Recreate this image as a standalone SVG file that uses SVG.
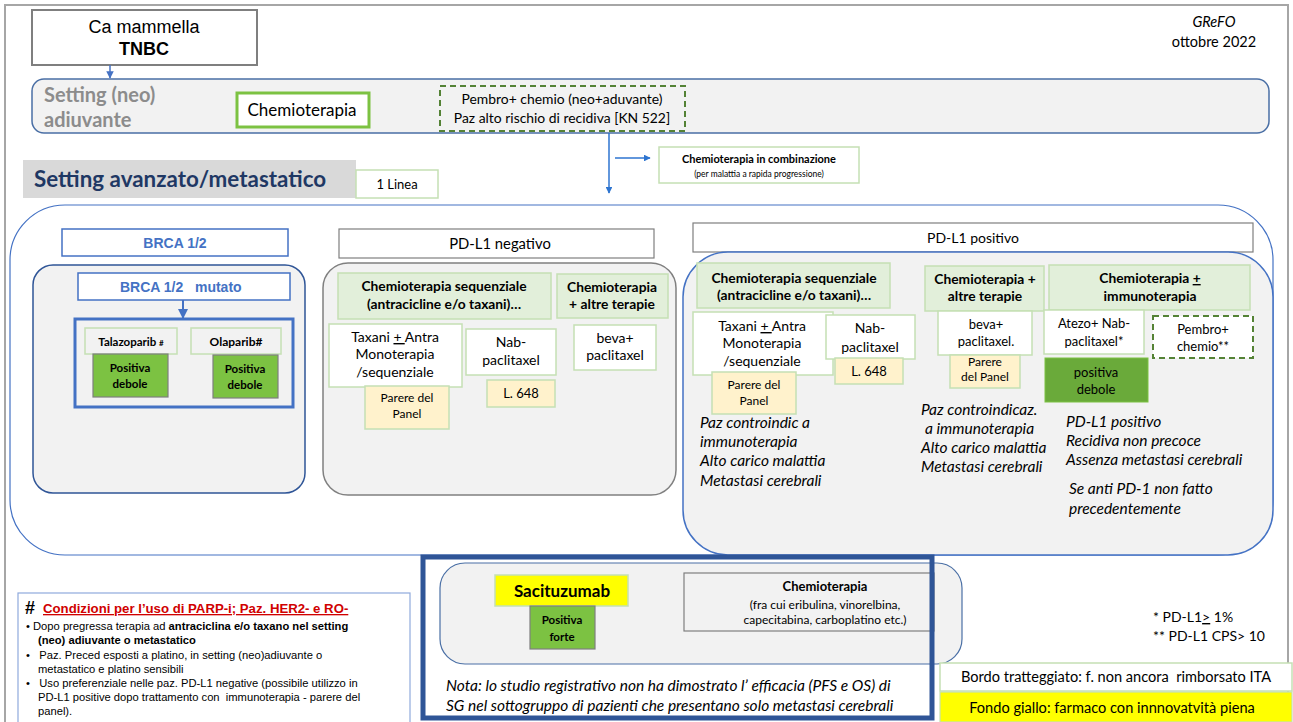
<svg xmlns="http://www.w3.org/2000/svg" width="1293" height="722" viewBox="0 0 1293 722">
<defs>
<marker id="ah" viewBox="0 0 10 10" refX="9" refY="5" markerWidth="5" markerHeight="5" orient="auto"><path d="M0,0 L10,5 L0,10 z" fill="#4472c4"/></marker>
<marker id="ah2" viewBox="0 0 10 10" refX="9" refY="5" markerWidth="4.5" markerHeight="4.5" orient="auto"><path d="M0,0 L10,5 L0,10 z" fill="#2e75d0"/></marker>
<style>
text{font-family:Lato,"Liberation Sans",sans-serif;fill:#000}
.ar{font-family:"Liberation Sans",Arial,sans-serif}
.c{text-anchor:middle}
.b{font-weight:bold}
.i{font-style:italic}
.hdr{fill:#e2efda;stroke:#c5e0b4;stroke-width:1.5}
.wb{fill:#fff;stroke:#c5e0b4;stroke-width:1.5}
.pan{fill:#fff2cc;stroke:#c5e0b4;stroke-width:1.5}
.gr{fill:#7cc242;stroke:#7f7f7f;stroke-width:1.2}
.dash{fill:#fff;stroke:#548235;stroke-width:2;stroke-dasharray:6,4}
.f13{font-size:13px}
.f14{font-size:14px}
.f12{font-size:12px}
.h{font-size:13.8px;font-weight:bold}
.it{font-size:15.5px;font-style:italic}
</style>
</defs>
<rect x="0" y="0" width="1293" height="722" fill="#fff"/>
<path d="M5,722 V5 H1288 V722" fill="none" stroke="#a6a6a6" stroke-width="2"/>

<g id="title">
<rect x="32" y="10" width="225" height="55" fill="#fff" stroke="#7f7f7f" stroke-width="2"/>
<text class="ar c" x="144" y="33" font-size="18">Ca mammella</text>
<text class="ar c b" x="144" y="55" font-size="18">TNBC</text>
</g>
<g id="grefo">
<text class="c i" x="1214" y="27" font-size="14.5">GReFO</text>
<text class="c" x="1214" y="47" font-size="14.5">ottobre 2022</text>
</g>

<g id="neo-setting">
<rect x="32" y="79" width="1237" height="54" rx="12" fill="#f2f2f2" stroke="#4a6fa5" stroke-width="1.5"/>
<text x="44" y="102" font-size="20" font-weight="bold" style="fill:#8c8c8c">Setting (neo)</text>
<text x="44" y="127" font-size="20" font-weight="bold" style="fill:#8c8c8c">adiuvante</text>
</g>
<g id="neo-chemio">
<rect x="237" y="93" width="132" height="34" fill="#fff" stroke="#7cc242" stroke-width="3"/>
<text class="c" x="302" y="116" font-size="17">Chemioterapia</text>
</g>
<g id="neo-pembro">
<rect x="440" y="86" width="245" height="45" class="dash" style="fill:#f2f2f2"/>
<text class="c" x="562" y="104" font-size="13.9">Pembro+ chemio (neo+aduvante)</text>
<text class="c" x="562" y="123" font-size="13.9">Paz alto rischio di recidiva [KN 522]</text>
</g>

<g id="meta-header">
<rect x="23" y="160" width="333" height="38" fill="#d9d9d9"/>
<text x="34" y="187" font-size="22.4" font-weight="bold" style="fill:#1f3864">Setting avanzato/metastatico</text>
</g>
<g id="linea">
<rect x="356" y="170" width="82" height="28" class="wb"/>
<text class="c f13" x="397" y="189">1 Linea</text>
</g>
<g id="combinazione">
<rect x="659" y="147" width="200" height="36" class="wb"/>
<text class="c b" x="759" y="163" font-size="11">Chemioterapia in combinazione</text>
<text class="c" x="759" y="177" font-size="8.5">(per malattia a rapida progressione)</text>
</g>

<g id="metastatic-container">
<rect x="10" y="205" width="1263" height="350" rx="55" fill="#fff" stroke="#4472c4" stroke-width="1.2"/>
</g>

<g id="brca">
<rect x="62" y="229" width="226" height="27" fill="#fff" stroke="#4472c4" stroke-width="1.5"/>
<text class="ar c b" x="175" y="248" font-size="14" style="fill:#4472c4">BRCA 1/2</text>
</g>
<g id="brca-container">
<rect x="33" y="265" width="272" height="228" rx="20" fill="#f2f2f2" stroke="#2f5597" stroke-width="1.5"/>
</g>
<g id="brca-mutato">
<rect x="78" y="273" width="212" height="27" fill="#fff" stroke="#4472c4" stroke-width="1.5"/>
<text class="ar b" x="120" y="292" font-size="14" style="fill:#4472c4" xml:space="preserve">BRCA 1/2   mutato</text>
</g>
<g id="parp-group">
<rect x="75" y="319" width="218" height="88" fill="#f2f2f2" stroke="#4472c4" stroke-width="3"/>
</g>
<g id="talazoparib">
<rect x="85" y="328" width="92" height="26" class="wb" style="fill:#f2f2f2"/>
<text class="c b" x="131" y="346" font-size="11.5">Talazoparib <tspan font-size="8">#</tspan></text>
<rect x="93" y="354" width="75" height="43" class="gr"/>
<text class="c b" x="130" y="372" font-size="11.5">Positiva</text>
<text class="c b" x="130" y="388" font-size="11.5">debole</text>
</g>
<g id="olaparib">
<rect x="191" y="328" width="90" height="26" class="wb" style="fill:#f2f2f2"/>
<text class="c b" x="236" y="346" font-size="12">Olaparib#</text>
<rect x="213" y="355" width="65" height="43" class="gr"/>
<text class="c b" x="245" y="373" font-size="11.5">Positiva</text>
<text class="c b" x="245" y="389" font-size="11.5">debole</text>
</g>

<g id="pdl1-neg">
<rect x="339" y="229" width="315" height="29" fill="#fff" stroke="#7f7f7f" stroke-width="1.2"/>
<text class="c" x="500" y="249" font-size="14.8">PD-L1 negativo</text>
</g>
<g id="pdl1-neg-container">
<rect x="323" y="263" width="353" height="232" rx="25" fill="#f2f2f2" stroke="#808080" stroke-width="1.5"/>
</g>
<g id="neg-seq">
<rect x="338" y="273" width="213" height="46" class="hdr"/>
<text class="c h" x="444" y="291">Chemioterapia sequenziale</text>
<text class="c h" x="444" y="309">(antracicline e/o taxani)…</text>
</g>
<g id="neg-altre">
<rect x="557" y="274" width="111" height="44" class="hdr"/>
<text class="c h" x="612" y="292">Chemioterapia</text>
<text class="c h" x="612" y="309">+ altre terapie</text>
</g>
<g id="neg-taxani">
<rect x="329" y="324" width="133" height="63" class="wb"/>
<text class="c f14" x="395" y="342">Taxani <tspan text-decoration="underline">+ </tspan>Antra</text>
<text class="c f14" x="395" y="359">Monoterapia</text>
<text class="c f14" x="395" y="377">/sequenziale</text>
</g>
<g id="neg-parere">
<rect x="365" y="386" width="84" height="43" class="pan"/>
<text class="c f12" x="407" y="402">Parere del</text>
<text class="c f12" x="407" y="418">Panel</text>
</g>
<g id="neg-nab">
<rect x="466" y="329" width="90" height="46" class="wb"/>
<text class="c f14" x="511" y="347">Nab-</text>
<text class="c f14" x="511" y="365">paclitaxel</text>
</g>
<g id="neg-l648">
<rect x="487" y="380" width="68" height="27" class="pan"/>
<text class="c f13" x="521" y="398">L. 648</text>
</g>
<g id="neg-beva">
<rect x="574" y="325" width="82" height="45" class="wb"/>
<text class="c f14" x="615" y="343">beva+</text>
<text class="c f14" x="615" y="360">paclitaxel</text>
</g>

<g id="pdl1-pos">
<rect x="693" y="223" width="560" height="29" fill="#fff" stroke="#7f7f7f" stroke-width="1.2"/>
<text class="c f14" x="973" y="243">PD-L1 positivo</text>
</g>
<g id="pdl1-pos-container">
<rect x="683" y="252" width="590" height="303" rx="45" fill="#f2f2f2" stroke="#4472c4" stroke-width="1.5"/>
</g>
<g id="pos-seq">
<rect x="697" y="263" width="193" height="45" class="hdr"/>
<text class="c h" x="794" y="283">Chemioterapia sequenziale</text>
<text class="c h" x="794" y="300">(antracicline e/o taxani)…</text>
</g>
<g id="pos-taxani">
<rect x="693" y="312" width="140" height="63" class="wb"/>
<text class="c f14" x="762" y="331">Taxani <tspan text-decoration="underline">+ </tspan>Antra</text>
<text class="c f14" x="762" y="348">Monoterapia</text>
<text class="c f14" x="762" y="366">/sequenziale</text>
</g>
<g id="pos-parere">
<rect x="712" y="372" width="84" height="42" class="pan"/>
<text class="c f12" x="754" y="389">Parere del</text>
<text class="c f12" x="754" y="405">Panel</text>
</g>
<g id="pos-nab">
<rect x="826" y="315" width="89" height="44" class="wb"/>
<text class="c f14" x="870" y="333">Nab-</text>
<text class="c f14" x="870" y="352">paclitaxel</text>
</g>
<g id="pos-l648">
<rect x="835" y="358" width="68" height="26" class="pan"/>
<text class="c f13" x="869" y="376">L. 648</text>
</g>
<g id="pos-seq-note">
<text class="it" x="700" y="428">Paz controindic a</text>
<text class="it" x="700" y="447">immunoterapia</text>
<text class="it" x="700" y="466">Alto carico malattia</text>
<text class="it" x="700" y="486">Metastasi cerebrali</text>
</g>
<g id="pos-altre">
<rect x="925" y="266" width="119" height="45" class="hdr"/>
<text class="c h" x="985" y="284">Chemioterapia +</text>
<text class="c h" x="985" y="301">altre terapie</text>
</g>
<g id="pos-beva">
<rect x="938" y="311" width="94" height="44" class="wb"/>
<text class="c f13" x="986" y="329">beva+</text>
<text class="c f13" x="986" y="346">paclitaxel.</text>
</g>
<g id="pos-beva-parere">
<rect x="950" y="355" width="70" height="33" class="pan"/>
<text class="c f12" x="985" y="366">Parere</text>
<text class="c f12" x="985" y="381">del Panel</text>
</g>
<g id="pos-altre-note">
<text class="it" x="921" y="415">Paz controindicaz.</text>
<text class="it" x="925" y="434">a immunoterapia</text>
<text class="it" x="921" y="453">Alto carico malattia</text>
<text class="it" x="921" y="472">Metastasi cerebrali</text>
</g>
<g id="pos-immuno">
<rect x="1049" y="265" width="201" height="45" class="hdr"/>
<text class="c h" x="1150" y="283">Chemioterapia <tspan text-decoration="underline">+</tspan></text>
<text class="c h" x="1150" y="301">immunoterapia</text>
</g>
<g id="pos-atezo">
<rect x="1044" y="310" width="100" height="44" class="wb"/>
<text class="c f13" x="1094" y="328">Atezo+ Nab-</text>
<text class="c f13" x="1094" y="346">paclitaxel*</text>
</g>
<g id="pos-atezo-grade">
<rect x="1045" y="358" width="103" height="44" fill="#6aaa3a" stroke="#7cc242" stroke-width="1"/>
<text class="c f13" x="1096" y="377">positiva</text>
<text class="c f13" x="1096" y="394">debole</text>
</g>
<g id="pos-pembro">
<rect x="1153" y="316" width="100" height="42" class="dash"/>
<text class="c f13" x="1203" y="334">Pembro+</text>
<text class="c f13" x="1203" y="351">chemio**</text>
</g>
<g id="pos-immuno-note">
<text class="it" x="1066" y="427">PD-L1 positivo</text>
<text class="it" x="1066" y="446">Recidiva non precoce</text>
<text class="it" x="1066" y="465">Assenza metastasi cerebrali</text>
<text class="it" x="1069" y="494">Se anti PD-1 non fatto</text>
<text class="it" x="1069" y="514">precedentemente</text>
</g>

<g id="parp-conditions">
<rect x="18" y="593" width="392" height="135" fill="#fff" stroke="#8faadc" stroke-width="1.2"/>
<text class="ar b" x="25" y="614" font-size="18">#</text>
<text class="ar b" x="43" y="613" font-size="13.2" text-decoration="underline" style="fill:#d00000">Condizioni per l’uso di PARP-i; Paz. HER2- e RO-</text>
<text class="ar" x="26" y="630" font-size="11.2">•  Dopo pregressa terapia ad <tspan font-weight="bold">antraciclina e/o taxano  nel setting</tspan></text>
<text class="ar b" x="38" y="644" font-size="11.2">(neo) adiuvante o metastatico</text>
<text class="ar" x="26" y="659" font-size="11.2" xml:space="preserve">•   Paz. Preced esposti a platino, in setting (neo)adiuvante o</text>
<text class="ar" x="38" y="673" font-size="11.2">metastatico e platino sensibili</text>
<text class="ar" x="26" y="687" font-size="11.2" xml:space="preserve">•   Uso preferenziale nelle paz. PD-L1 negative (possibile utilizzo in</text>
<text class="ar" x="38" y="701" font-size="11.2" xml:space="preserve">PD-L1 positive dopo trattamento con  immunoterapia - parere del</text>
<text class="ar" x="38" y="715" font-size="11.2">panel).</text>
</g>

<g id="second-line-container">
<rect x="440" y="563" width="522" height="101" rx="25" fill="#f2f2f2" stroke="#4a6fa5" stroke-width="1.2"/>
</g>
<g id="sacituzumab">
<rect x="495" y="575" width="133" height="31" fill="#ffff00" stroke="#c5e0b4" stroke-width="1.5"/>
<text class="c b" x="562" y="597" font-size="17">Sacituzumab</text>
<rect x="530" y="606" width="65" height="43" class="gr"/>
<text class="c b" x="562" y="624" font-size="11.5">Positiva</text>
<text class="c b" x="562" y="641" font-size="11.5">forte</text>
</g>
<g id="chemio-2l">
<rect x="684" y="573" width="250" height="58" fill="#f2f2f2" stroke="#7f7f7f" stroke-width="1.2"/>
<text class="c b f13" x="825" y="591">Chemioterapia</text>
<text class="c" x="825" y="609" font-size="12">(fra cui eribulina, vinorelbina,</text>
<text class="c" x="825" y="624" font-size="12">capecitabina, carboplatino etc.)</text>
</g>
<g id="second-line-frame">
<rect x="423" y="557" width="509" height="161" fill="none" stroke="#2f5597" stroke-width="5"/>
<text class="i" x="446" y="691" font-size="15.5">Nota: lo studio registrativo non ha dimostrato l’ efficacia (PFS e OS) di</text>
<text class="i" x="446" y="711" font-size="15.5">SG nel sottogruppo di pazienti che presentano solo metastasi cerebrali</text>
</g>

<g id="footnotes">
<text x="1153" y="622" font-size="14">* PD-L1<tspan text-decoration="underline">&gt;</tspan> 1%</text>
<text x="1153" y="641" font-size="14">** PD-L1 CPS&gt; 10</text>
</g>
<g id="legend-dashed">
<rect x="940" y="663" width="352" height="28" class="wb"/>
<text class="c" x="1116" y="682" font-size="14.6" xml:space="preserve">Bordo tratteggiato: f. non ancora  rimborsato ITA</text>
</g>
<g id="legend-yellow">
<rect x="940" y="692" width="352" height="30" fill="#ffff00" stroke="#c5e0b4" stroke-width="1.2"/>
<text class="c" x="1112" y="713" font-size="14.6">Fondo giallo: farmaco con innnovatvità piena</text>
</g>

<g id="connectors" fill="none">
<line x1="110" y1="65" x2="110" y2="78" stroke="#4472c4" stroke-width="1.5" marker-end="url(#ah)"/>
<line x1="183" y1="300" x2="183" y2="318" stroke="#4472c4" stroke-width="2" marker-end="url(#ah)"/>
<line x1="609" y1="133" x2="609" y2="193" stroke="#2e75d0" stroke-width="1.5" marker-end="url(#ah2)"/>
<line x1="615" y1="158" x2="650" y2="158" stroke="#2e75d0" stroke-width="1.5" marker-end="url(#ah2)"/>
</g>
</svg>
